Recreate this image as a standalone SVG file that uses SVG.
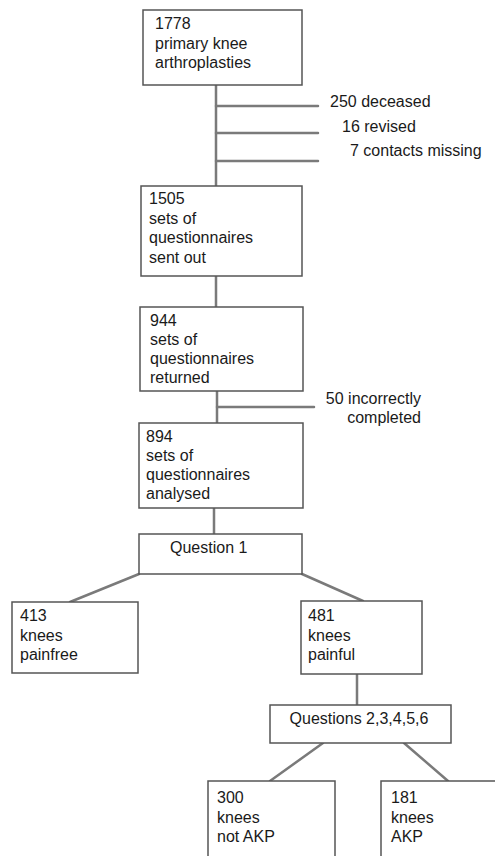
<svg xmlns="http://www.w3.org/2000/svg" width="495" height="856" viewBox="0 0 495 856">
<style>
.box{fill:#fff;stroke:#555;stroke-width:1.5}
.t{font-family:"Liberation Sans",Arial,sans-serif;font-size:16px;fill:#1a1a1a}
.c{stroke:#7a7a7a;stroke-width:2.5;fill:none;stroke-linecap:round}
</style>
<rect width="495" height="856" fill="#fff"/>
<g id="connectors">
<line class="c" x1="216" y1="85" x2="216" y2="186"/>
<line class="c" x1="216" y1="106" x2="318" y2="106"/>
<line class="c" x1="216" y1="133" x2="318" y2="133"/>
<line class="c" x1="216" y1="161" x2="318" y2="161"/>
<line class="c" x1="216" y1="276" x2="216" y2="307"/>
<line class="c" x1="217" y1="391" x2="217" y2="423"/>
<line class="c" x1="217" y1="407" x2="314" y2="407"/>
<line class="c" x1="214" y1="508" x2="214" y2="534"/>
<line class="c" x1="139" y1="574" x2="70" y2="602"/>
<line class="c" x1="302" y1="574" x2="363" y2="601"/>
<line class="c" x1="357" y1="674" x2="357" y2="705"/>
<line class="c" x1="323" y1="743" x2="270" y2="781"/>
<line class="c" x1="404" y1="743" x2="448" y2="781"/>
</g>
<g id="n1778">
<rect class="box" x="143" y="10" width="159" height="75"/>
<text class="t" x="155" y="29">1778</text>
<text class="t" x="155" y="49">primary knee</text>
<text class="t" x="155" y="68">arthroplasties</text>
</g>
<g id="excl1">
<text class="t" x="330" y="107">250 deceased</text>
<text class="t" x="342" y="132">16 revised</text>
<text class="t" x="350" y="156">7 contacts missing</text>
</g>
<g id="n1505">
<rect class="box" x="141" y="186" width="161" height="90"/>
<text class="t" x="149" y="204">1505</text>
<text class="t" x="149" y="224">sets of</text>
<text class="t" x="149" y="243">questionnaires</text>
<text class="t" x="149" y="263">sent out</text>
</g>
<g id="n944">
<rect class="box" x="140" y="307" width="163" height="84"/>
<text class="t" x="150" y="326">944</text>
<text class="t" x="150" y="345">sets of</text>
<text class="t" x="150" y="364">questionnaires</text>
<text class="t" x="150" y="383">returned</text>
</g>
<g id="excl2">
<text class="t" x="421" y="404" text-anchor="end">50 incorrectly</text>
<text class="t" x="421" y="423" text-anchor="end">completed</text>
</g>
<g id="n894">
<rect class="box" x="139" y="423" width="164" height="85"/>
<text class="t" x="146" y="442">894</text>
<text class="t" x="146" y="461">sets of</text>
<text class="t" x="146" y="480">questionnaires</text>
<text class="t" x="146" y="499">analysed</text>
</g>
<g id="q1">
<rect class="box" x="139" y="534" width="163" height="40"/>
<text class="t" x="170" y="553">Question 1</text>
</g>
<g id="n413">
<rect class="box" x="12" y="602" width="126" height="71"/>
<text class="t" x="20" y="621">413</text>
<text class="t" x="20" y="641">knees</text>
<text class="t" x="20" y="660">painfree</text>
</g>
<g id="n481">
<rect class="box" x="301" y="601" width="121" height="73"/>
<text class="t" x="308" y="621">481</text>
<text class="t" x="308" y="641">knees</text>
<text class="t" x="308" y="660">painful</text>
</g>
<g id="q2">
<rect class="box" x="270" y="705" width="181" height="38"/>
<text class="t" x="359" y="724" text-anchor="middle">Questions 2,3,4,5,6</text>
</g>
<g id="n300">
<rect class="box" x="208" y="781" width="127" height="80"/>
<text class="t" x="217" y="803">300</text>
<text class="t" x="217" y="823">knees</text>
<text class="t" x="217" y="842">not AKP</text>
</g>
<g id="n181">
<rect class="box" x="381" y="781" width="130" height="80"/>
<text class="t" x="391" y="803">181</text>
<text class="t" x="391" y="823">knees</text>
<text class="t" x="391" y="842">AKP</text>
</g>
</svg>
